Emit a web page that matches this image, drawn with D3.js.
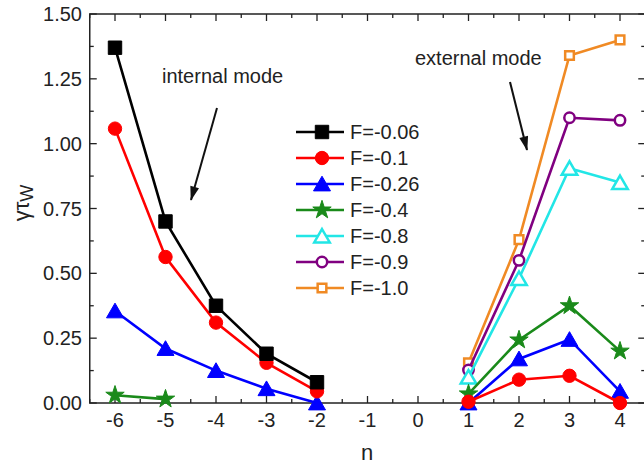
<!DOCTYPE html>
<html>
<head>
<meta charset="utf-8">
<script src="https://cdn.jsdelivr.net/npm/d3@7"></script>
<style>
  body { margin: 0; background: #fff; }
  text { font-family: Arial, "Liberation Sans", sans-serif; fill: #222; }
</style>
</head>
<body>
<svg id="chart"></svg>
<script>
// Chart size
const width = 644;
const height = 468;

// Data: growth rate for each F, left = internal mode, right = external mode
const nLeft = [-6, -5, -4, -3, -2];
const nRight = [1, 2, 3, 4];

const labels = ["F=-0.06", "F=-0.1", "F=-0.26", "F=-0.4", "F=-0.8", "F=-0.9", "F=-1.0"];
const colors = ["#000000", "#ff0000", "#0000ff", "#1a8a1a", "#22e6e6", "#800080", "#f08a24"];
const symbols = ["square", "circle", "triangle", "star", "triangle", "circle", "square"];
const filled = [true, true, true, true, false, false, false];

const left006 = [1.37, 0.70, 0.375, 0.19, 0.08];
const left01 = [1.058, 0.563, 0.31, 0.155, 0.045];
const left026 = [0.355, 0.21, 0.125, 0.055, 0.0];
const left04 = [0.03, 0.015];

const right01 = [0.005, 0.09, 0.105, 0.0];
const right026 = [0.0, 0.17, 0.245, 0.045];
const right04 = [0.035, 0.243, 0.375, 0.20];
const right08 = [0.10, 0.48, 0.905, 0.85];
const right09 = [0.127, 0.55, 1.10, 1.09];
const right10 = [0.155, 0.63, 1.34, 1.40];

const leftSets = [left006, left01, left026, left04, [], [], []];
const rightSets = [[], right01, right026, right04, right08, right09, right10];

const xTicks = [-6, -5, -4, -3, -2, -1, 0, 1, 2, 3, 4];
const yTicks = [0, 0.25, 0.5, 0.75, 1.0, 1.25, 1.5];

const svg = d3.select("#chart")
    .attr("width", width)
    .attr("height", height);

// x(-6)=115, x(4)=620
const x = d3.scaleLinear().domain([-6.5, 4.5]).range([89.75, 645.25]);
const y = d3.scaleLinear().domain([0, 1.5]).range([403, 14]);

const x0 = x.range()[0], x1 = x.range()[1];
const y0 = y.range()[0], y1 = y.range()[1];

// Ticks (inward) with minor ticks
const axes = svg.append("g").attr("stroke", "#222").attr("stroke-width", 1.3);
d3.range(-6.5, 4.51, 0.5).forEach(v => {
    const major = Math.abs(v - Math.round(v)) < 1e-6;
    const len = major ? 7 : 4;
    axes.append("line").attr("x1", x(v)).attr("x2", x(v)).attr("y1", y0).attr("y2", y0 - len);
    axes.append("line").attr("x1", x(v)).attr("x2", x(v)).attr("y1", y1).attr("y2", y1 + len);
});
d3.range(0, 1.501, 0.125).forEach(v => {
    const major = Math.abs(v / 0.25 - Math.round(v / 0.25)) < 1e-6;
    const len = major ? 7 : 4;
    axes.append("line").attr("x1", x0).attr("x2", x0 + len).attr("y1", y(v)).attr("y2", y(v));
    axes.append("line").attr("x1", x1).attr("x2", x1 - len).attr("y1", y(v)).attr("y2", y(v));
});

// Frame
svg.append("rect")
    .attr("x", x0).attr("y", y1)
    .attr("width", x1 - x0).attr("height", y0 - y1)
    .attr("fill", "none").attr("stroke", "#222").attr("stroke-width", 1.5);

// Tick labels
svg.selectAll("text.xt").data(xTicks).enter().append("text")
    .attr("class", "xt")
    .attr("x", d => x(d)).attr("y", 427)
    .attr("text-anchor", "middle")
    .attr("font-size", 20)
    .text(d => d);

svg.selectAll("text.yt").data(yTicks).enter().append("text")
    .attr("class", "yt")
    .attr("x", 82).attr("y", d => y(d) + 7)
    .attr("text-anchor", "end")
    .attr("font-size", 20)
    .text(d => d.toFixed(2));

// Axis titles
svg.append("text")
    .attr("x", 367).attr("y", 460)
    .attr("text-anchor", "middle")
    .attr("font-size", 22)
    .text("n");

const yl = svg.append("text")
    .attr("transform", "translate(29,203) rotate(-90)")
    .attr("text-anchor", "middle")
    .attr("font-size", 22);
yl.append("tspan").text("γτ");
yl.append("tspan").attr("font-size", 18).attr("dy", 4).text("W");

// Marker helpers
function symbolPath(kind, isFilled) {
    const sizes = isFilled
        ? { square: 180, circle: 140, triangle: 125, star: 105 }
        : { square: 75, circle: 85, triangle: 105, star: 105 };
    const types = { square: d3.symbolSquare, circle: d3.symbolCircle, triangle: d3.symbolTriangle, star: d3.symbolStar };
    return d3.symbol().type(types[kind]).size(sizes[kind])();
}

function drawMarker(g, px, py, i) {
    const dy = symbols[i] === "triangle" ? 2 : 0;
    g.append("path")
        .attr("d", symbolPath(symbols[i], filled[i]))
        .attr("transform", `translate(${px},${py + dy})`)
        .attr("fill", filled[i] ? colors[i] : "#fff")
        .attr("stroke", colors[i])
        .attr("stroke-width", filled[i] ? 1 : 2.5);
}

const line = d3.line().x(d => x(d[0])).y(d => y(d[1]));

// Draw series, last ones first so black ends on top
const plot = svg.append("g");
for (let i = labels.length - 1; i >= 0; i--) {
    const segs = [
        leftSets[i].map((v, k) => [nLeft[k], v]),
        rightSets[i].map((v, k) => [nRight[k], v])
    ];
    segs.forEach(pts => {
        if (!pts.length) return;
        plot.append("path")
            .attr("d", line(pts))
            .attr("fill", "none")
            .attr("stroke", colors[i])
            .attr("stroke-width", 2.6);
        pts.forEach(p => drawMarker(plot, x(p[0]), y(p[1]), i));
    });
}

// Legend
const legend = svg.append("g");
labels.forEach((lab, i) => {
    const ly = 132 + i * 26;
    legend.append("line")
        .attr("x1", 296).attr("x2", 344).attr("y1", ly).attr("y2", ly)
        .attr("stroke", colors[i]).attr("stroke-width", 2.6);
    drawMarker(legend, 322, ly, i);
    legend.append("text")
        .attr("x", 350).attr("y", ly + 7)
        .attr("font-size", 20)
        .text(lab);
});

// Annotations
const defs = svg.append("defs");
defs.append("marker")
    .attr("id", "arrow")
    .attr("viewBox", "0 0 16 10")
    .attr("refX", 15).attr("refY", 5)
    .attr("markerUnits", "userSpaceOnUse")
    .attr("markerWidth", 16).attr("markerHeight", 9)
    .attr("orient", "auto")
    .append("path").attr("d", "M0,0 L16,5 L0,10 Z").attr("fill", "#111");

svg.append("text").attr("x", 162).attr("y", 83).attr("font-size", 20).text("internal mode");
svg.append("line")
    .attr("x1", 217).attr("y1", 108).attr("x2", 191).attr("y2", 200)
    .attr("stroke", "#111").attr("stroke-width", 2)
    .attr("marker-end", "url(#arrow)");

svg.append("text").attr("x", 415).attr("y", 65).attr("font-size", 20).text("external mode");
svg.append("line")
    .attr("x1", 510).attr("y1", 82).attr("x2", 527).attr("y2", 150)
    .attr("stroke", "#111").attr("stroke-width", 2)
    .attr("marker-end", "url(#arrow)");
</script>
</body>
</html>
